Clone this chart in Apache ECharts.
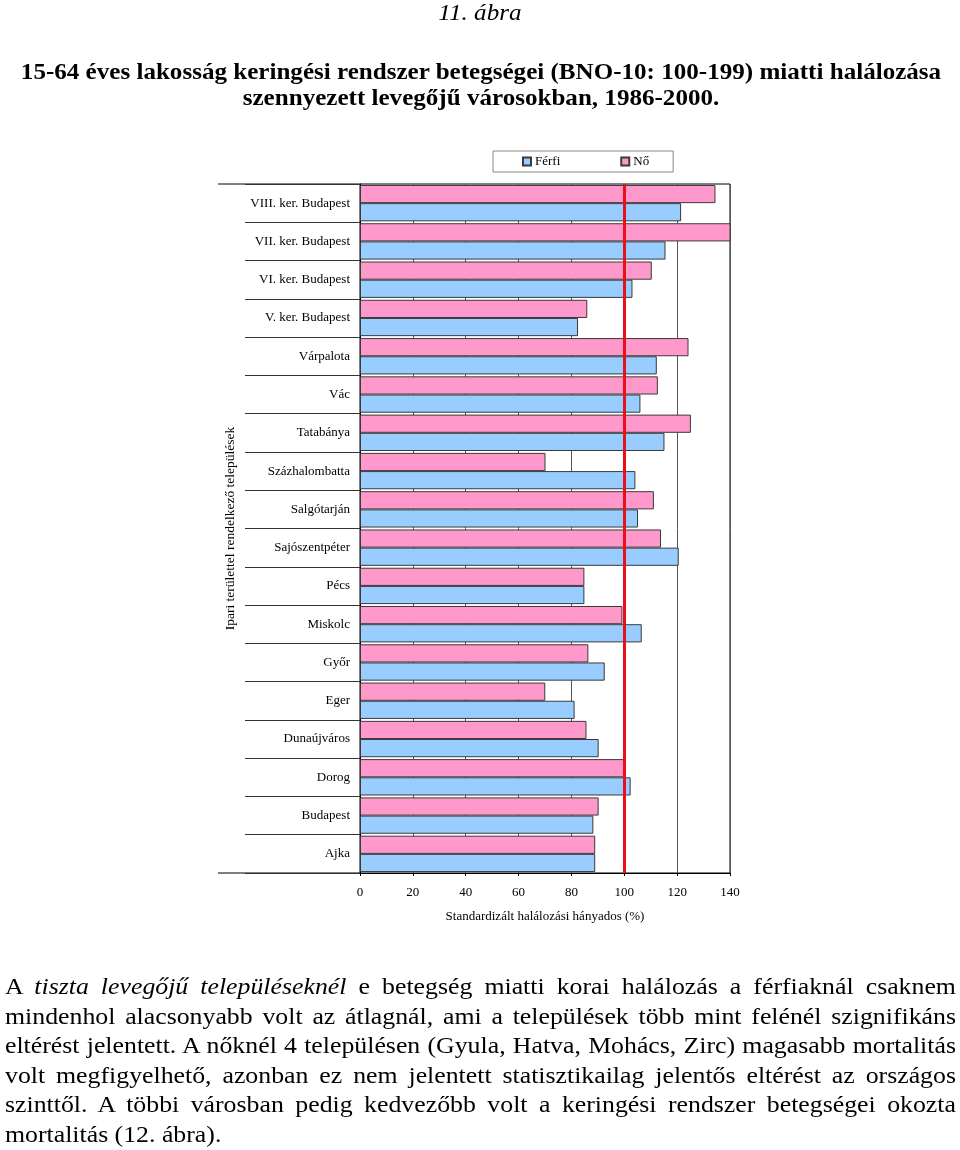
<!DOCTYPE html>
<html>
<head>
<meta charset="utf-8">
<script src="https://cdn.jsdelivr.net/npm/echarts@6/dist/echarts.min.js"></script>
<style>
  body { margin: 0; background: #fff; }
  .page { position: relative; width: 960px; height: 1150px; overflow: hidden; }
  #chart { position: absolute; left: 0; top: 0; width: 960px; height: 1150px; }
  .fig-no { position: absolute; top: 0; left: 0; width: 960px; text-align: center;
    font: italic 23px "Liberation Serif", serif; line-height: 26px;
    transform: scaleX(1.09); transform-origin: 481px 0; }
  .fig-title { position: absolute; top: 59px; left: 0; width: 962px; text-align: center;
    font: bold 23px "Liberation Serif", serif; line-height: 26px;
    transform: scaleX(1.09); transform-origin: 481px 0; }
  .text { position: absolute; top: 972px; left: 5px; width: 884.6px;
    font: 24px "Liberation Serif", serif; line-height: 29.6px;
    transform: scaleX(1.075); transform-origin: 0 0; }
  .text div { text-align: justify; text-align-last: justify; white-space: nowrap; }
  .text div.last { text-align-last: left; }
</style>
</head>
<body>
<div class="page">
  <div id="chart"></div>
  <div class="fig-no">11. ábra</div>
  <div class="fig-title">15-64 éves lakosság keringési rendszer betegségei (BNO-10: 100-199) miatti halálozása<br>szennyezett levegőjű városokban, 1986-2000.</div>
  <div class="text">
    <div>A <i>tiszta levegőjű településeknél</i> e betegség miatti korai halálozás a férfiaknál csaknem</div>
    <div>mindenhol alacsonyabb volt az átlagnál, ami a települések több mint felénél szignifikáns</div>
    <div>eltérést jelentett. A nőknél 4 településen (Gyula, Hatva, Mohács, Zirc) magasabb mortalitás</div>
    <div>volt megfigyelhető, azonban ez nem jelentett statisztikailag jelentős eltérést az országos</div>
    <div>szinttől. A többi városban pedig kedvezőbb volt a keringési rendszer betegségei okozta</div>
    <div class="last">mortalitás (12. ábra).</div>
  </div>
</div>
<script>
// települések, felülről lefelé
const cities = [
  'VIII. ker. Budapest', 'VII. ker. Budapest', 'VI. ker. Budapest', 'V. ker. Budapest',
  'Várpalota', 'Vác', 'Tatabánya', 'Százhalombatta', 'Salgótarján', 'Sajószentpéter',
  'Pécs', 'Miskolc', 'Győr', 'Eger', 'Dunaújváros', 'Dorog', 'Budapest', 'Ajka'
]
const noValues = [134.5, 141, 110.4, 86.0, 124.3, 112.7, 125.2, 70.2, 111.2, 113.9,
  84.9, 99.3, 86.4, 70.1, 85.7, 100.1, 90.3, 89.0]
const ferfiValues = [121.5, 115.6, 103.1, 82.5, 112.3, 106.1, 115.2, 104.2, 105.2, 120.6,
  84.9, 106.6, 92.6, 81.2, 90.3, 102.4, 88.3, 89.0]
const xTicks = [0, 20, 40, 60, 80, 100, 120, 140]
const refLevel = 100 // országos átlag

const serif = '"Liberation Serif", "Times New Roman", serif'
const chart = echarts.init(document.getElementById('chart'))

const option = {
  animation: false,
  textStyle: { fontFamily: serif, color: '#000' },
  legend: {
    data: ['Férfi', 'Nő'],
    left: 493,
    top: 151,
    orient: 'horizontal',
    icon: 'rect',
    itemWidth: 8,
    itemHeight: 8,
    itemGap: 60,
    padding: [4, 24, 4, 29],
    borderColor: '#888',
    borderWidth: 1,
    textStyle: { fontFamily: serif, fontSize: 13, color: '#000', padding: [0, 0, 0, -1] }
  },
  grid: {
    left: 360,
    right: 230,
    top: 184,
    bottom: 277,
    show: true,
    borderColor: '#000',
    borderWidth: 1
  },
  xAxis: {
    type: 'value',
    min: xTicks[0],
    max: xTicks[xTicks.length - 1],
    interval: 20,
    name: 'Standardizált halálozási hányados (%)',
    nameLocation: 'middle',
    nameGap: 37,
    nameTextStyle: { fontFamily: serif, fontSize: 13, color: '#000' },
    axisLine: { show: true, lineStyle: { color: '#000' } },
    axisTick: { show: true, length: 3, lineStyle: { color: '#000' } },
    axisLabel: { fontFamily: serif, fontSize: 13, color: '#000', margin: 13 },
    splitLine: { show: true, lineStyle: { color: '#555', width: 1 } }
  },
  yAxis: {
    type: 'category',
    data: cities,
    inverse: true,
    name: 'Ipari területtel rendelkező települések',
    nameLocation: 'middle',
    nameRotate: 90,
    nameGap: 123,
    nameTextStyle: { fontFamily: serif, fontSize: 13.5, color: '#000' },
    axisLine: { show: true, lineStyle: { color: '#000' } },
    axisTick: { show: true, length: 115, lineStyle: { color: '#333' } },
    axisLabel: { fontFamily: serif, fontSize: 13, color: '#000', margin: 10 }
  },
  series: [
    {
      name: 'Nő',
      type: 'bar',
      data: noValues,
      barGap: '0%',
      barCategoryGap: '5%',
      clip: true,
      itemStyle: { color: '#FF99CC', borderColor: '#3a3a3a', borderWidth: 1 },
      markLine: {
        silent: true,
        symbol: 'none',
        label: { show: false },
        lineStyle: { color: '#e8101a', width: 3, type: 'solid' },
        data: [{ xAxis: refLevel }]
      }
    },
    {
      name: 'Férfi',
      type: 'bar',
      data: ferfiValues,
      barGap: '0%',
      barCategoryGap: '5%',
      clip: true,
      itemStyle: { color: '#99CCFF', borderColor: '#3a3a3a', borderWidth: 1 }
    }
  ],
  graphic: [
    { type: 'line', shape: { x1: 218, y1: 184, x2: 360, y2: 184 }, style: { stroke: '#000', lineWidth: 1 } },
    { type: 'line', shape: { x1: 218, y1: 873, x2: 360, y2: 873 }, style: { stroke: '#000', lineWidth: 1 } }
  ]
}

chart.setOption(option)
</script>
</body>
</html>
